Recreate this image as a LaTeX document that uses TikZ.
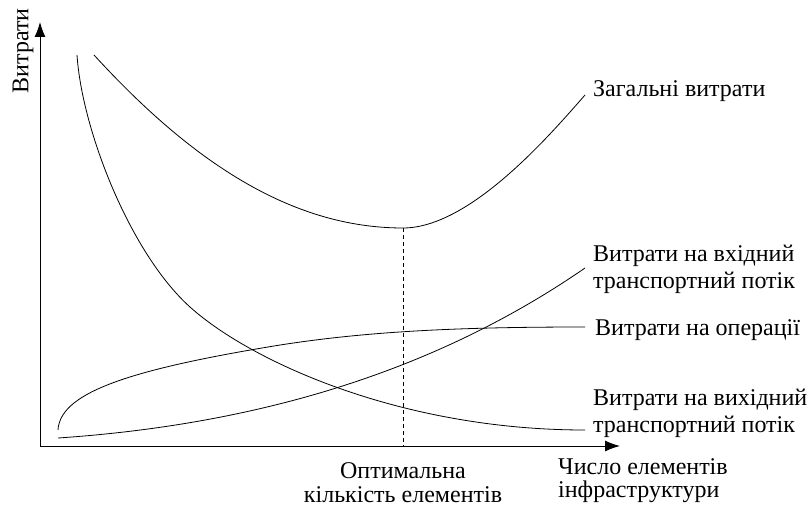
\documentclass[tikz,border=0pt]{standalone}
\usepackage{fontspec}
\setmainfont{Liberation Serif}
\usetikzlibrary{arrows.meta}

\tikzset{
  axis/.style={line width=1pt, -{Latex[length=15pt,width=11pt]}},
  costline/.style={line width=0.8pt},
  label/.style={inner sep=0pt, font=\fontsize{24}{26.5}\selectfont},
}

\begin{document}
\begin{tikzpicture}[x=1pt,y=-1pt]
\useasboundingbox (0,0) rectangle (810,508);

\coordinate (O) at (40,446);
\coordinate (Ytop) at (40,22);
\coordinate (Xend) at (620,446);
\coordinate (Opt) at (403,228);
\coordinate (OptX) at (403,446);

% axes
\draw[axis] (O) -- (Ytop);
\draw[axis] (O) -- (Xend);
\node[label, rotate=90] (ylab) at (23,51) {Витрати};

% labels (multi-line nodes sit on their last line)
\node[label, anchor=base west] (total) at (593,97) {Загальні витрати};
\node[label, anchor=base west, align=left] (inflow) at (593,288) {Витрати на вхідний\\транспортний потік};
\node[label, anchor=base west] (oper) at (595,335) {Витрати на операції};
\node[label, anchor=base west, align=left] (outflow) at (593,432) {Витрати на вихідний\\транспортний потік};
\node[label, anchor=base west, align=left, font=\fontsize{24}{22.5}\selectfont] (xlab) at (558,497) {Число елементів\\інфраструктури};
\node[label, anchor=base, align=center, font=\fontsize{24}{24}\selectfont] (optlab) at (403,502) {Оптимальна\\кількість елементів};

% curves
\draw[costline] (94,55) .. controls (190,160) and (290,228) .. (Opt)
  .. controls (470,228) and (550,135) .. (585,95);
\draw[costline] (77,55) .. controls (82,130) and (130,253) .. (190,307)
  .. controls (250,361) and (400,430) .. (585,430);
\draw[costline] (58,430) .. controls (60,395) and (120,372) .. (262,348)
  .. controls (360,331) and (460,327) .. (585,327);
\draw[costline] (58,438) .. controls (250,425) and (430,375) .. (585,268);

\draw[dashed, dash pattern=on 4pt off 3pt, line width=0.7pt] (Opt) -- (OptX);

\end{tikzpicture}
\end{document}
